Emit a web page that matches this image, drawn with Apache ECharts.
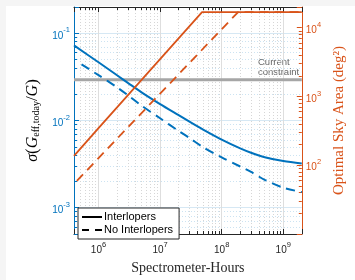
<!DOCTYPE html>
<html>
<head>
<meta charset="utf-8">
<script src="https://cdn.jsdelivr.net/npm/echarts@6/dist/echarts.min.js"></script>
<style>
html, body { margin: 0; padding: 0; background: #fff; }
#chart { width: 355px; height: 280px; }
</style>
</head>
<body>
<div id="chart"></div>
<script>
// spectrometer-hours (x) for the sigma curves
var hoursInt = [4e5, 1e6, 2e6, 3e6, 5e6, 1e7, 2e7, 3e7, 5e7, 1e8, 2e8, 3e8, 5e8, 1e9, 2e9];
var sigmaInt = [0.0726, 0.0465, 0.0330, 0.0270, 0.0210, 0.0154, 0.0115, 0.0097, 0.00787, 0.00604, 0.00479, 0.00427, 0.00380, 0.00343, 0.00322];
var hoursNoInt = [5.3e5, 1e6, 2e6, 3e6, 5e6, 1e7, 2e7, 3e7, 5e7, 1e8, 2e8, 3e8, 5e8, 1e9, 2e9];
var sigmaNoInt = [0.0439, 0.0331, 0.0240, 0.0195, 0.0148, 0.0106, 0.00759, 0.00631, 0.00494, 0.00378, 0.00297, 0.00257, 0.00209, 0.00170, 0.00151];

// optimal sky area (right axis, deg^2)
var areaHoursInt = [4e5, 1e6, 1e7, 4.8e7, 2e9];
var areaInt = [137, 346, 3500, 16900, 16900];
var areaHoursNoInt = [4.45e5, 1e6, 1e7, 1e8, 1.85e8, 2e9];
var areaNoInt = [59, 127, 1100, 9500, 16900, 16900];

// current constraint level
var constraintHours = [4e5, 2e9];
var constraintSigma = [0.0293, 0.0293];

var BLUE = '#0072BD';
var ORANGE = '#D95319';
var DARK = '#262626';

var pairs = function (xs, ys) {
    return xs.map(function (x, i) { return [x, ys[i]]; });
};

// 10^n tick labels, blank for the edges
var powLabel = function (v) {
    var e = Math.log10(v);
    var r = Math.round(e);
    if (Math.abs(e - r) > 1e-6) return '';
    return '{b|10}{s|' + r + '}';
};
var powRich = {
    b: { fontSize: 10, fontFamily: 'Liberation Sans', padding: [5, 0, 0, 0] },
    s: { fontSize: 7.5, fontFamily: 'Liberation Sans', padding: [0, 0, 6, 0] }
};

var myChart = echarts.init(document.getElementById('chart'));

var xBase = {
    type: 'log',
    min: 4e5,
    max: 2e9,
    axisLine: { show: true, lineStyle: { color: DARK, width: 1 } },
    axisTick: { show: true, inside: true, length: 5, lineStyle: { color: DARK } },
    minorTick: { show: true, splitNumber: 9, length: 3, lineStyle: { color: DARK } }
};

var option = {
    backgroundColor: '#fff',
    animation: false,
    grid: { left: 74, right: 44, top: 7, bottom: 36 },
    legend: {
        orient: 'vertical',
        left: 78,
        top: 208,
        padding: [3, 6, 3, 3],
        itemWidth: 20,
        itemHeight: 12,
        itemGap: 1,
        backgroundColor: '#fff',
        borderColor: DARK,
        borderWidth: 1,
        borderRadius: 0,
        itemStyle: { opacity: 0 },
        textStyle: { fontFamily: 'Liberation Sans', fontSize: 11, color: '#000', lineHeight: 12, padding: [0, 0, 0, -3] },
        data: ['Interlopers', 'No Interlopers']
    },
    xAxis: [
        Object.assign({}, xBase, {
            position: 'bottom',
            name: 'Spectrometer-Hours',
            nameLocation: 'middle',
            nameGap: 27,
            nameTextStyle: { fontFamily: 'Liberation Serif', fontSize: 14, color: DARK },
            axisLabel: { margin: 6, color: DARK, formatter: powLabel, rich: powRich },
            splitLine: { show: true, lineStyle: { color: '#dedede', width: 1 } },
            minorSplitLine: { show: true, lineStyle: { color: '#d6d6d6', type: [1, 2], width: 1 } }
        }),
        Object.assign({}, xBase, {
            position: 'top',
            axisLabel: { show: false },
            splitLine: { show: false }
        })
    ],
    yAxis: [
        {
            type: 'log',
            position: 'left',
            min: 5e-4,
            max: 0.2,
            name: '{i|σ}{n|(}{i|G}{sub|eff,today}{n|/}{i|G}{n|)}',
            nameLocation: 'middle',
            nameRotate: 90,
            nameGap: 31,
            nameTextStyle: {
                color: '#000',
                rich: {
                    i: { fontFamily: 'Liberation Serif', fontStyle: 'italic', fontSize: 16, lineHeight: 18 },
                    n: { fontFamily: 'Liberation Serif', fontSize: 17, lineHeight: 18 },
                    sub: { fontFamily: 'Liberation Serif', fontSize: 10, lineHeight: 10, verticalAlign: 'bottom' }
                }
            },
            axisLine: { show: true, lineStyle: { color: BLUE, width: 1 } },
            axisTick: { show: true, inside: true, length: 5, lineStyle: { color: BLUE } },
            minorTick: { show: true, splitNumber: 9, length: 3, lineStyle: { color: BLUE } },
            axisLabel: { margin: 4, color: BLUE, formatter: powLabel, rich: powRich },
            splitLine: { show: true, lineStyle: { color: 'rgba(0,114,189,0.16)', width: 1 } },
            minorSplitLine: { show: true, lineStyle: { color: 'rgba(0,114,189,0.2)', type: [1, 2], width: 1 } }
        },
        {
            type: 'log',
            position: 'right',
            min: 10,
            max: 2e4,
            name: 'Optimal Sky Area (deg²)',
            nameLocation: 'middle',
            nameRotate: 90,
            nameGap: 27,
            nameTextStyle: { fontFamily: 'Liberation Serif', fontSize: 15, color: ORANGE },
            axisLine: { show: true, lineStyle: { color: ORANGE, width: 1 } },
            axisTick: { show: true, inside: true, length: 5, lineStyle: { color: ORANGE } },
            minorTick: { show: true, splitNumber: 9, length: 3, lineStyle: { color: ORANGE } },
            axisLabel: { margin: 4, color: ORANGE, showMinLabel: false, formatter: powLabel, rich: powRich },
            splitLine: { show: false }
        }
    ],
    graphic: [
        { type: 'rect', left: 0, top: 0, shape: { width: 355, height: 6 }, style: { fill: '#f5f5f5' }, z: -10 },
        { type: 'rect', left: 0, top: 0, shape: { width: 6, height: 280 }, style: { fill: '#f5f5f5' }, z: -10 },
        {
            type: 'text',
            left: 258,
            top: 57,
            style: { text: 'Current\nconstraint', font: '9.5px Liberation Sans', fill: '#666', lineHeight: 10.5 }
        }
    ],
    series: [
        {
            name: 'constraint',
            type: 'line',
            yAxisIndex: 0,
            data: pairs(constraintHours, constraintSigma),
            symbol: 'none',
            lineStyle: { color: '#a6a6a6', width: 3 },
            z: 1
        },
        {
            name: 'sigmaInt',
            type: 'line',
            yAxisIndex: 0,
            data: pairs(hoursInt, sigmaInt),
            symbol: 'none',
            smooth: 0.3,
            lineStyle: { color: BLUE, width: 2 },
            z: 2
        },
        {
            name: 'sigmaNoInt',
            type: 'line',
            yAxisIndex: 0,
            data: pairs(hoursNoInt, sigmaNoInt),
            symbol: 'none',
            smooth: 0.3,
            lineStyle: { color: BLUE, width: 2, type: [9, 6] },
            z: 2
        },
        {
            name: 'areaInt',
            type: 'line',
            yAxisIndex: 1,
            data: pairs(areaHoursInt, areaInt),
            symbol: 'none',
            lineStyle: { color: ORANGE, width: 1.8 },
            z: 3
        },
        {
            name: 'areaNoInt',
            type: 'line',
            yAxisIndex: 1,
            data: pairs(areaHoursNoInt, areaNoInt),
            symbol: 'none',
            lineStyle: { color: ORANGE, width: 1.8, type: [9, 6] },
            z: 3
        },
        // legend only
        {
            name: 'Interlopers',
            type: 'line',
            data: [],
            symbol: 'none',
            itemStyle: { color: '#000' },
            lineStyle: { color: '#000', width: 2 }
        },
        {
            name: 'No Interlopers',
            type: 'line',
            data: [],
            symbol: 'none',
            itemStyle: { color: '#000' },
            lineStyle: { color: '#000', width: 2, type: [7, 6] }
        }
    ]
};

myChart.setOption(option);
</script>
</body>
</html>
